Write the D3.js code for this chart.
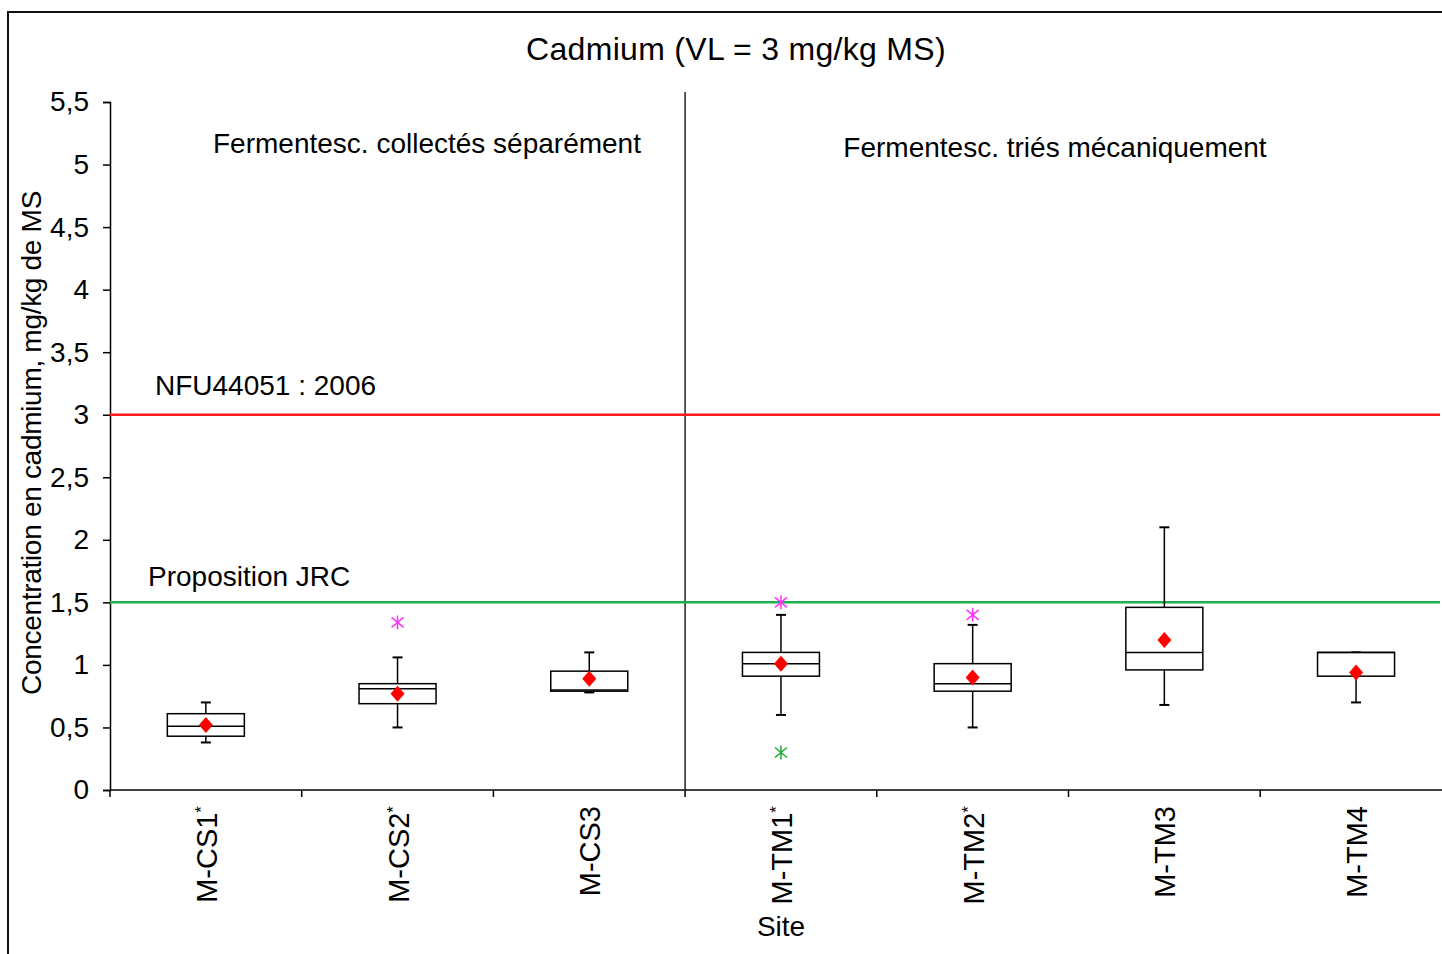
<!DOCTYPE html>
<html>
<head>
<meta charset="utf-8">
<script src="https://cdn.jsdelivr.net/npm/d3@7"></script>
<style>
  body { margin: 0; background: #fff; }
  svg { font-family: "Liberation Sans", Arial, sans-serif; }
</style>
</head>
<body>
<script>
// sites and their box statistics (mg/kg de MS)
const sites = ["M-CS1", "M-CS2", "M-CS3", "M-TM1", "M-TM2", "M-TM3", "M-TM4"];
const starred = [true, true, false, true, true, false, false];
const whiskerLow = [0.38, 0.50, 0.78, 0.60, 0.50, 0.68, 0.70];
const q1 = [0.43, 0.69, 0.79, 0.91, 0.79, 0.96, 0.91];
const median = [0.51, 0.81, 0.80, 1.01, 0.85, 1.10, 1.10];
const q3 = [0.61, 0.85, 0.95, 1.10, 1.01, 1.46, 1.10];
const whiskerHigh = [0.70, 1.06, 1.10, 1.40, 1.32, 2.10, 1.10];
const means = [0.52, 0.77, 0.89, 1.01, 0.90, 1.20, 0.94];
// outliers: [site index, value, colour]
const outliers = [
  [1, 1.34, "#ff33ff"],
  [3, 1.50, "#ff33ff"],
  [3, 0.30, "#22aa33"],
  [4, 1.40, "#ff33ff"]
];
const yTicks = [0, 0.5, 1, 1.5, 2, 2.5, 3, 3.5, 4, 4.5, 5, 5.5];
const limits = [
  { value: 3, label: "NFU44051 : 2006", color: "#ff1a1a" },
  { value: 1.5, label: "Proposition JRC", color: "#1db14b" }
];

const W = 1442, H = 954;
const svg = d3.select("body").append("svg")
    .attr("width", W)
    .attr("height", H);

// outer frame
svg.append("rect")
    .attr("x", 8).attr("y", 12)
    .attr("width", W).attr("height", H)
    .attr("fill", "none")
    .attr("stroke", "#111")
    .attr("stroke-width", 2);

const x = d3.scaleBand().domain(sites).range([110, 110 + 7 * 191.7]);
const y = d3.scaleLinear().domain([0, 5.5]).range([790, 102]);
const boxW = 77;

// title
svg.append("text")
    .attr("x", 736).attr("y", 60)
    .attr("text-anchor", "middle")
    .style("font-size", "32px")
    .style("letter-spacing", "0.3px")
    .text("Cadmium (VL = 3 mg/kg  MS)");

// y axis
const yAxis = svg.append("g")
    .attr("transform", "translate(110,0)")
    .call(d3.axisLeft(y).tickValues(yTicks).tickSizeOuter(0).tickSize(7).tickPadding(14)
        .tickFormat(d => String(d).replace(".", ",")));
yAxis.selectAll("text").style("font-size", "28px").attr("fill", "#000");
yAxis.selectAll("line, path").attr("stroke", "#000").attr("stroke-width", 1.5);

svg.append("text")
    .attr("transform", "translate(41,443) rotate(-90)")
    .attr("text-anchor", "middle")
    .style("font-size", "28px")
    .style("letter-spacing", "-0.3px")
    .text("Concentration en cadmium, mg/kg de MS");

// x axis
svg.append("line")
    .attr("x1", 110).attr("x2", W)
    .attr("y1", 790).attr("y2", 790)
    .attr("stroke", "#000").attr("stroke-width", 1.5);
svg.selectAll(".xtick")
    .data(sites)
    .enter().append("line")
    .attr("class", "xtick")
    .attr("x1", d => x(d)).attr("x2", d => x(d))
    .attr("y1", 790).attr("y2", 797)
    .attr("stroke", "#000").attr("stroke-width", 1.5);

const xl = svg.selectAll(".xlabel")
    .data(sites)
    .enter().append("text")
    .attr("class", "xlabel")
    .attr("transform", d => "translate(" + (x(d) + x.bandwidth() / 2 + 11) + ",806) rotate(-90)")
    .attr("text-anchor", "end")
    .style("font-size", "29px");
xl.append("tspan").text(d => d);
xl.append("tspan")
    .attr("dy", "-10")
    .style("font-size", "17px")
    .text((d, i) => starred[i] ? "*" : "");

svg.append("text")
    .attr("x", 781).attr("y", 936)
    .attr("text-anchor", "middle")
    .style("font-size", "28px")
    .text("Site");

// group divider
svg.append("line")
    .attr("x1", x("M-TM1")).attr("x2", x("M-TM1"))
    .attr("y1", 92).attr("y2", 790)
    .attr("stroke", "#222").attr("stroke-width", 1.5);

svg.append("text")
    .attr("x", 427).attr("y", 153)
    .attr("text-anchor", "middle")
    .style("font-size", "28px")
    .text("Fermentesc. collectés séparément");
svg.append("text")
    .attr("x", 1055).attr("y", 157)
    .attr("text-anchor", "middle")
    .style("font-size", "28px")
    .text("Fermentesc. triés  mécaniquement");

// limit lines
svg.selectAll(".limit")
    .data(limits)
    .enter().append("line")
    .attr("class", "limit")
    .attr("x1", 110).attr("x2", 1440)
    .attr("y1", d => y(d.value)).attr("y2", d => y(d.value))
    .attr("stroke", d => d.color)
    .attr("stroke-width", 2.5);
svg.append("text")
    .attr("x", 155).attr("y", y(3) - 20)
    .style("font-size", "28px")
    .text(limits[0].label);
svg.append("text")
    .attr("x", 148).attr("y", y(1.5) - 16)
    .style("font-size", "28px")
    .text(limits[1].label);

// boxes
const boxes = svg.selectAll(".box")
    .data(sites)
    .enter().append("g")
    .attr("class", "box")
    .attr("transform", d => "translate(" + (x(d) + x.bandwidth() / 2) + ",0)");

boxes.append("line")
    .attr("y1", (d, i) => y(whiskerHigh[i])).attr("y2", (d, i) => y(q3[i]))
    .attr("stroke", "#000").attr("stroke-width", 1.5);
boxes.append("line")
    .attr("y1", (d, i) => y(q1[i])).attr("y2", (d, i) => y(whiskerLow[i]))
    .attr("stroke", "#000").attr("stroke-width", 1.5);
boxes.append("line")
    .attr("x1", -5).attr("x2", 5)
    .attr("y1", (d, i) => y(whiskerHigh[i])).attr("y2", (d, i) => y(whiskerHigh[i]))
    .attr("stroke", "#000").attr("stroke-width", 2);
boxes.append("line")
    .attr("x1", -5).attr("x2", 5)
    .attr("y1", (d, i) => y(whiskerLow[i])).attr("y2", (d, i) => y(whiskerLow[i]))
    .attr("stroke", "#000").attr("stroke-width", 2);
boxes.append("rect")
    .attr("x", -boxW / 2).attr("width", boxW)
    .attr("y", (d, i) => y(q3[i]))
    .attr("height", (d, i) => y(q1[i]) - y(q3[i]))
    .attr("fill", "#fff")
    .attr("stroke", "#000").attr("stroke-width", 1.5);
boxes.append("line")
    .attr("x1", -boxW / 2).attr("x2", boxW / 2)
    .attr("y1", (d, i) => y(median[i])).attr("y2", (d, i) => y(median[i]))
    .attr("stroke", "#000").attr("stroke-width", 1.5);

// means as red diamonds
boxes.append("path")
    .attr("transform", (d, i) => "translate(0," + y(means[i]) + ")")
    .attr("d", "M0,-8L7,0L0,8L-7,0Z")
    .attr("fill", "#ff0000");

// outliers as asterisks
const ast = "M0,-7V7M-6,-5L6,5M-6,5L6,-5";
svg.selectAll(".outlier")
    .data(outliers)
    .enter().append("path")
    .attr("class", "outlier")
    .attr("transform", d => "translate(" + (x(sites[d[0]]) + x.bandwidth() / 2) + "," + y(d[1]) + ")")
    .attr("d", ast)
    .attr("fill", "none")
    .attr("stroke", d => d[2])
    .attr("stroke-width", 1.5);
</script>
</body>
</html>
